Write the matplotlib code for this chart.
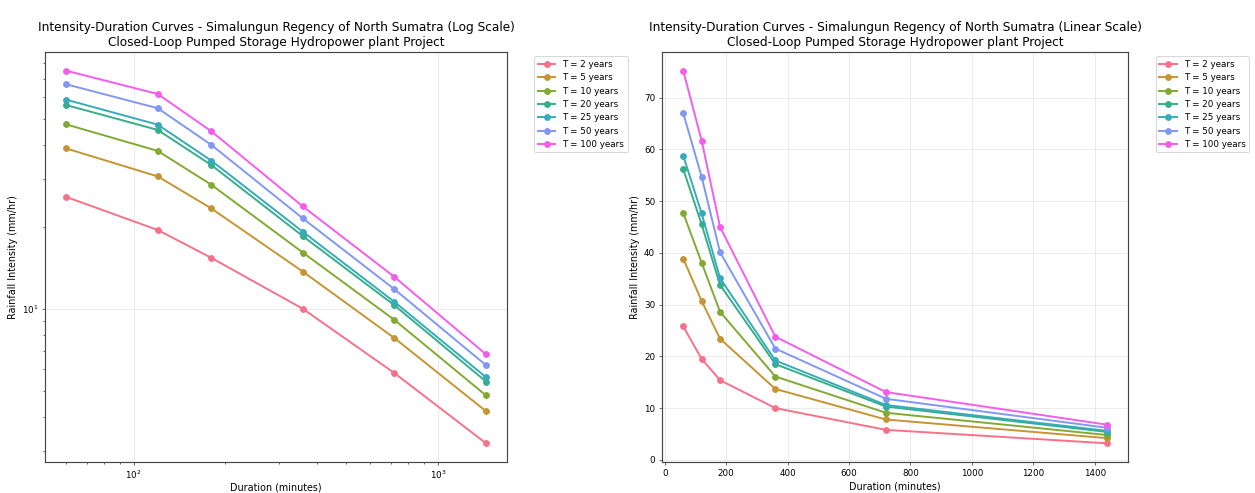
import matplotlib
matplotlib.use("Agg")
import matplotlib.pyplot as plt
import seaborn as sns

durations = [60, 120, 180, 360, 720, 1440]
return_periods = [2, 5, 10, 20, 25, 50, 100]
intensity = {
    2:   [25.8, 19.5, 15.4, 10.0, 5.8, 3.2],
    5:   [38.9, 30.7, 23.4, 13.7, 7.8, 4.2],
    10:  [47.7, 38.1, 28.6, 16.1, 9.1, 4.8],
    20:  [56.2, 45.5, 33.8, 18.5, 10.3, 5.4],
    25:  [58.8, 47.6, 35.1, 19.2, 10.6, 5.6],
    50:  [67.0, 54.7, 40.1, 21.5, 11.8, 6.2],
    100: [75.2, 61.7, 45.0, 23.8, 13.1, 6.8],
}

colors = sns.color_palette("husl", len(return_periods))
dpi = 1255 / 18
fig, axes = plt.subplots(1, 2, figsize=(18, 493 / dpi), dpi=dpi)

titles = [
    "Intensity-Duration Curves - Simalungun Regency of North Sumatra (Log Scale)\nClosed-Loop Pumped Storage Hydropower plant Project",
    "Intensity-Duration Curves - Simalungun Regency of North Sumatra (Linear Scale)\nClosed-Loop Pumped Storage Hydropower plant Project",
]

for i, ax in enumerate(axes):
    for T, c in zip(return_periods, colors):
        ax.plot(durations, intensity[T], marker="o", linewidth=2, markersize=6,
                color=c, label=f"T = {T} years")
    if i == 0:
        ax.set_xscale("log")
        ax.set_yscale("log")
    ax.set_xlabel("Duration (minutes)", fontsize=10, labelpad=1.5 if i == 0 else 4)
    ax.set_ylabel("Rainfall Intensity (mm/hr)", fontsize=10)
    ax.set_title(titles[i], fontsize=12.5)
    ax.grid(True, alpha=0.3)
    ax.legend(bbox_to_anchor=(1.05, 1), loc="upper left", fontsize=9)
    ax.tick_params(labelsize=9, color="#444444")
    for sp in ax.spines.values():
        sp.set_color("#444444")
        sp.set_linewidth(1.2)

b, t = 0.063, 0.8945
axes[0].set_position([0.036, b, 0.404 - 0.036, t - b])
axes[1].set_position([0.5275, b, 0.899 - 0.5275, t - b])
fig.savefig("out.png", dpi=dpi)
